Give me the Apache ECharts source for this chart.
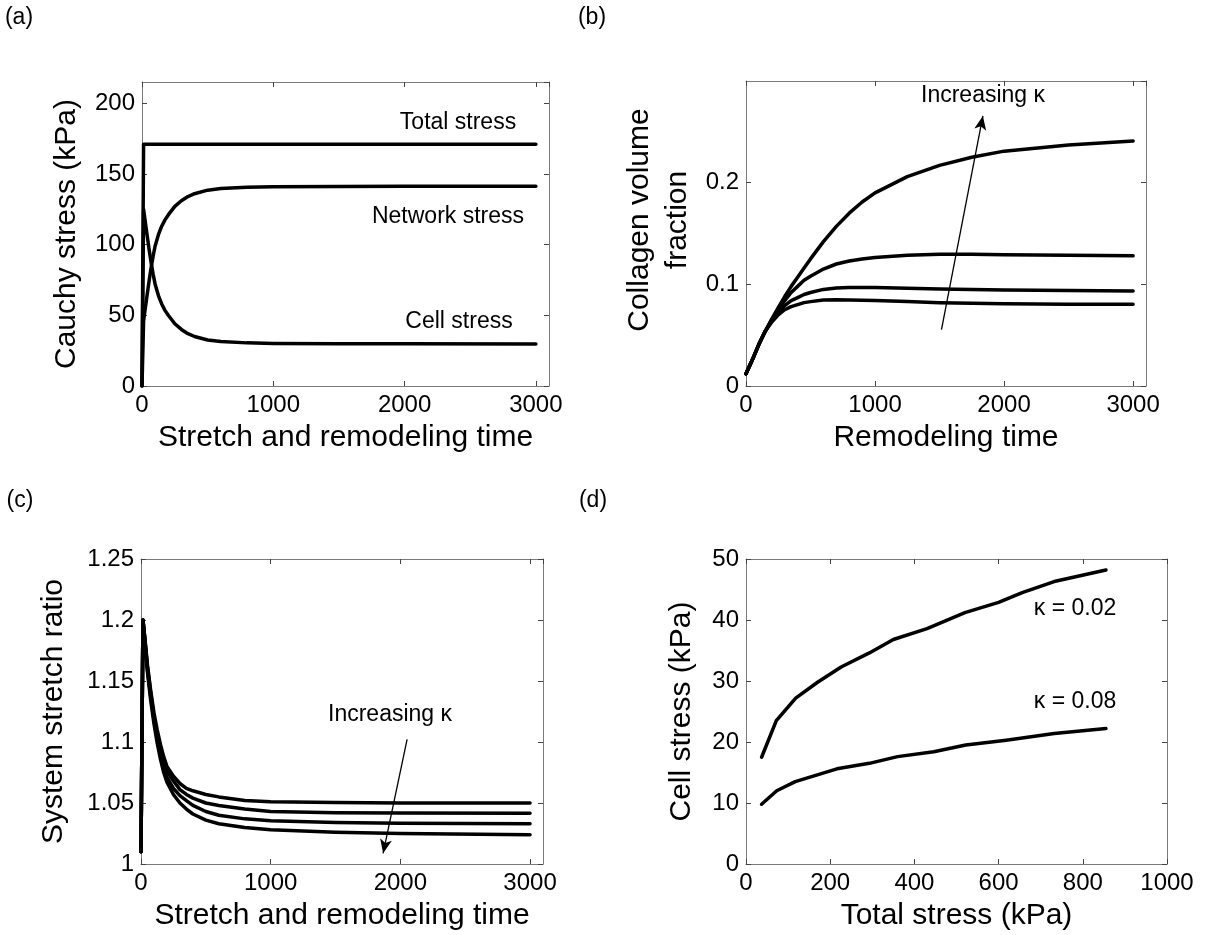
<!DOCTYPE html>
<html><head><meta charset="utf-8">
<script src="https://cdn.jsdelivr.net/npm/echarts@6/dist/echarts.min.js"></script>
<style>html,body{margin:0;padding:0;background:#fff}#c{width:1210px;height:935px}</style>
</head><body><div id="c"></div>
<script>
// ---------- Panel (a): Cauchy stress vs stretch and remodeling time ----------
const tA = [0, 12, 25, 40, 55, 70, 85, 100, 125, 150, 175, 200, 250, 300, 350, 400, 500, 600, 800, 1000, 1500, 2000, 3000];
const totalStress   = [0, 171, 171, 171, 171, 171, 171, 171, 171, 171, 171, 171, 171, 171, 171, 171, 171, 171, 171, 171, 171, 171, 171];
const networkStress = [0, 46, 55, 65, 75, 84, 92, 99, 107, 113, 117.5, 121, 127, 131, 134, 136, 138.5, 139.6, 140.6, 141, 141.1, 141.2, 141.3];
const cellStress    = [0, 125, 116, 106, 96, 87, 79, 72, 64, 58, 53.5, 50, 44, 40, 37, 35, 32.5, 31.4, 30.5, 30.1, 29.9, 29.8, 29.7];

// ---------- Panel (b): collagen volume fraction vs remodeling time ----------
const tB = [0, 50, 100, 150, 200, 250, 300, 350, 400, 450, 500, 600, 700, 800, 900, 1000, 1250, 1500, 1750, 2000, 2500, 3000];
const collagen1 = [0.012, 0.026, 0.041, 0.054, 0.066, 0.077, 0.088, 0.098, 0.107, 0.116, 0.125, 0.142, 0.157, 0.170, 0.181, 0.190, 0.206, 0.217, 0.225, 0.231, 0.237, 0.241];
const collagen2 = [0.012, 0.026, 0.041, 0.054, 0.065, 0.075, 0.084, 0.092, 0.098, 0.104, 0.108, 0.115, 0.120, 0.123, 0.125, 0.1265, 0.1285, 0.1295, 0.1295, 0.129, 0.1285, 0.128];
const collagen3 = [0.012, 0.026, 0.041, 0.054, 0.064, 0.072, 0.079, 0.084, 0.087, 0.090, 0.092, 0.095, 0.0965, 0.097, 0.097, 0.097, 0.0962, 0.0955, 0.095, 0.0945, 0.094, 0.0935];
const collagen4 = [0.012, 0.026, 0.041, 0.054, 0.063, 0.070, 0.075, 0.078, 0.080, 0.082, 0.083, 0.0845, 0.0848, 0.0845, 0.0843, 0.084, 0.083, 0.082, 0.0815, 0.081, 0.0805, 0.0805];

// ---------- Panel (c): system stretch ratio ----------
const tC = [0, 15, 30, 50, 75, 100, 125, 150, 175, 200, 250, 300, 350, 400, 500, 600, 800, 1000, 1500, 2000, 3000];
const stretch1 = [1.01, 1.2, 1.185, 1.163, 1.142, 1.124, 1.110, 1.098, 1.088, 1.080, 1.072, 1.066, 1.062, 1.060, 1.057, 1.055, 1.052, 1.051, 1.0505, 1.050, 1.050];
const stretch2 = [1.01, 1.2, 1.184, 1.161, 1.140, 1.121, 1.106, 1.094, 1.084, 1.076, 1.068, 1.061, 1.057, 1.054, 1.050, 1.048, 1.045, 1.043, 1.042, 1.0418, 1.0415];
const stretch3 = [1.01, 1.2, 1.183, 1.159, 1.137, 1.118, 1.103, 1.090, 1.080, 1.071, 1.062, 1.056, 1.052, 1.048, 1.043, 1.040, 1.037, 1.0355, 1.034, 1.0335, 1.033];
const stretch4 = [1.01, 1.2, 1.182, 1.157, 1.134, 1.115, 1.099, 1.086, 1.075, 1.067, 1.057, 1.050, 1.045, 1.041, 1.036, 1.033, 1.030, 1.028, 1.026, 1.025, 1.024];

// ---------- Panel (d): cell stress vs total stress ----------
const totalK002 = [37, 72, 118, 170, 226, 293, 350, 430, 520, 600, 656, 732, 855];
const cellK002  = [17.5, 23.5, 27.2, 29.8, 32.3, 34.6, 36.8, 38.6, 41.2, 42.9, 44.5, 46.3, 48.2];
const totalK008 = [37, 73, 117, 216, 293, 360, 446, 522, 618, 732, 855];
const cellK008  = [9.8, 12.0, 13.5, 15.6, 16.5, 17.6, 18.4, 19.5, 20.3, 21.4, 22.2];

// ---------- Axis settings ----------
const axA = {x: {min: 0, max: 3100, interval: 1000, showMax: false}, y: {min: 0, max: 215, interval: 50, showMax: false}};
const axB = {x: {min: 0, max: 3100, interval: 1000, showMax: false}, y: {min: 0, max: 0.3, interval: 0.1, showMax: false}};
const axC = {x: {min: 0, max: 3100, interval: 1000, showMax: false}, y: {min: 1, max: 1.25, interval: 0.05, showMax: true}};
const axD = {x: {min: 0, max: 1000, interval: 200, showMax: true}, y: {min: 0, max: 50, interval: 10, showMax: true}};

const FONT = '"Liberation Sans", Arial, Helvetica, sans-serif';
const zip = (xs, ys) => xs.map((x, i) => [x, ys[i]]);
const fmt = v => String(Math.round(v * 1e6) / 1e6);

const grids = [
  {left: 142, top: 82, width: 407, height: 304},
  {left: 746, top: 81, width: 400, height: 305},
  {left: 141, top: 559, width: 402, height: 305},
  {left: 746, top: 559, width: 421, height: 305}
].map(g => Object.assign({outerBoundsMode: 'none', containLabel: false}, g));

function mkAxis(gi, pos, sc, main, name, nameGap, extra) {
  return Object.assign({
    type: 'value', gridIndex: gi, position: pos,
    min: sc.min, max: sc.max, interval: sc.interval,
    axisLine: {show: true, onZero: false, lineStyle: {color: '#7a7a7a', width: 1}},
    axisTick: {show: true, inside: true, length: 5, lineStyle: {color: '#444', width: 1}},
    axisLabel: {show: main, margin: 7, fontSize: 24, color: '#000', fontFamily: FONT,
                showMaxLabel: sc.showMax, showMinLabel: true, hideOverlap: false, formatter: fmt},
    splitLine: {show: false},
    name: main ? name : '', nameLocation: 'middle', nameGap: nameGap,
    nameTextStyle: {fontSize: 30, color: '#000', fontFamily: FONT}
  }, extra || {});
}

const xAxis = [], yAxis = [];
const axes = [axA, axB, axC, axD];
const xNames = ['Stretch and remodeling time', 'Remodeling time', 'Stretch and remodeling time', 'Total stress (kPa)'];
const yNames = ['Cauchy stress (kPa)', 'Collagen volume\nfraction', 'System stretch ratio', 'Cell stress (kPa)'];
const yGaps = [60, 49, 72, 49];
axes.forEach((ax, i) => {
  xAxis.push(mkAxis(i, 'bottom', ax.x, true, xNames[i], 37));
  xAxis.push(mkAxis(i, 'top', ax.x, false, '', 0));
  const yExtra = i === 1 ? {nameTextStyle: {fontSize: 30, color: '#000', fontFamily: FONT, lineHeight: 38, padding: [0, 0, 0, 27]}} : {};
  yAxis.push(mkAxis(i, 'left', ax.y, true, yNames[i], yGaps[i], yExtra));
  yAxis.push(mkAxis(i, 'right', ax.y, false, '', 0));
});

const lineBase = {type: 'line', showSymbol: false, symbol: 'none', animation: false, silent: true,
                  lineStyle: {color: '#000', width: 3.5, join: 'round', cap: 'round'}, itemStyle: {color: '#000'}};
function ser(gi, data, opts) {
  return Object.assign({}, lineBase, {xAxisIndex: 2 * gi, yAxisIndex: 2 * gi, data: data}, opts || {});
}
const arrow = (from, to) => ({
  silent: true, animation: false, symbol: ['none', 'arrow'], symbolSize: [9, 14],
  lineStyle: {color: '#000', width: 1.3, type: 'solid'}, label: {show: false},
  emphasis: {disabled: true}, data: [[{coord: from}, {coord: to}]]
});

const series = [
  ser(0, zip(tA, totalStress)),
  ser(0, zip(tA, networkStress)),
  ser(0, zip(tA, cellStress)),
  ser(1, zip(tB, collagen1), {markLine: arrow([1515, 0.0555], [1836, 0.2656])}),
  ser(1, zip(tB, collagen2)),
  ser(1, zip(tB, collagen3)),
  ser(1, zip(tB, collagen4)),
  ser(2, zip(tC, stretch1), {markLine: arrow([2052, 1.1022], [1867, 1.0088])}),
  ser(2, zip(tC, stretch2)),
  ser(2, zip(tC, stretch3)),
  ser(2, zip(tC, stretch4)),
  ser(3, zip(totalK002, cellK002)),
  ser(3, zip(totalK008, cellK008))
];

function txt(s, x, y, size) {
  return {type: 'text', x: x, y: y, silent: true,
          style: {text: s, fill: '#000', font: size + 'px ' + FONT, align: 'center', verticalAlign: 'middle',
                  textAlign: 'center', textVerticalAlign: 'middle'}};
}
const graphic = [
  txt('(a)', 19, 18, 23), txt('(b)', 592, 18, 23), txt('(c)', 20, 501, 23), txt('(d)', 593, 501, 23),
  txt('Total stress', 458, 123, 23), txt('Network stress', 448, 217, 23), txt('Cell stress', 459, 322, 23),
  txt('Increasing κ', 983, 96, 23), txt('Increasing κ', 390, 715, 23),
  txt('κ = 0.02', 1075, 609, 23), txt('κ = 0.08', 1075, 702, 23)
];

const chart = echarts.init(document.getElementById('c'), null, {renderer: 'canvas'});
chart.setOption({
  animation: false, backgroundColor: '#fff',
  textStyle: {fontFamily: FONT},
  grid: grids, xAxis: xAxis, yAxis: yAxis, series: series, graphic: graphic
});
</script></body></html>
